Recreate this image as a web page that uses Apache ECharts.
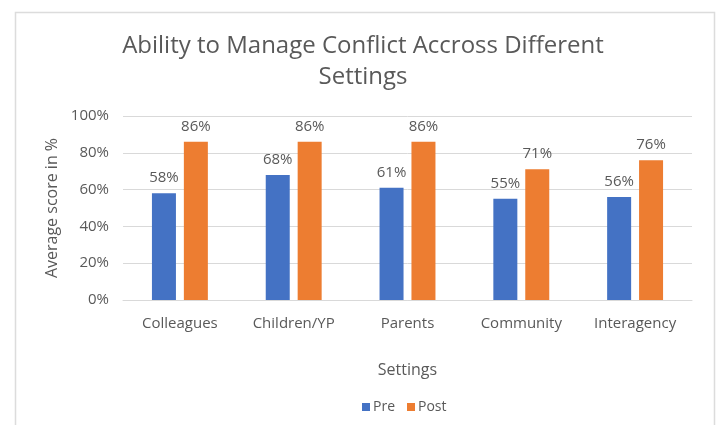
<!DOCTYPE html>
<html>
<head>
<meta charset="utf-8">
<script src="https://cdn.jsdelivr.net/npm/echarts@6/dist/echarts.min.js"></script>
<style>html,body{margin:0;padding:0;background:#fff;}#c{width:718px;height:425px;}</style>
</head>
<body>
<div id="c"></div>
<script>
const categories = ["Colleagues", "Children/YP", "Parents", "Community", "Interagency"];
const preValues = [58, 68, 61, 55, 56];
const postValues = [86, 86, 86, 71, 76];
const yTicks = [0, 20, 40, 60, 80, 100];

const FONT = "'Open Sans', 'Noto Sans', sans-serif";
const TXT = "#595959";
const chart = echarts.init(document.getElementById('c'));
chart.setOption({
  animation: false,
  backgroundColor: '#fff',
  graphic: [{
    type: 'rect', left: 13, top: 10,
    shape: { width: 699, height: 430 },
    style: { fill: 'none', stroke: '#dcdcdc', lineWidth: 1.5 }
  }],
  title: {
    text: 'Ability to Manage Conflict Accross Different\nSettings',
    left: 358, textAlign: 'center', top: 26,
    textStyle: { fontFamily: FONT, fontSize: 24, fontWeight: 'normal', color: TXT, lineHeight: 31 }
  },
  legend: {
    data: ['Pre', 'Post'],
    top: 395, left: 357,
    itemWidth: 8, itemHeight: 8, itemGap: 12,
    icon: 'rect',
    textStyle: { fontFamily: FONT, fontSize: 14, color: TXT, padding: [0, 0, 0, -2] }
  },
  grid: { left: 123, right: 26, top: 116, bottom: 125 },
  xAxis: {
    type: 'category', data: categories,
    name: 'Settings', nameLocation: 'middle', nameGap: 62,
    nameTextStyle: { fontFamily: FONT, fontSize: 16, color: TXT },
    axisLine: { lineStyle: { color: '#d9d9d9' } },
    axisTick: { show: false },
    axisLabel: { fontFamily: FONT, fontSize: 15, color: TXT, margin: 16 }
  },
  yAxis: {
    type: 'value', min: 0, max: 100, interval: 20,
    name: 'Average score in %', nameLocation: 'middle', nameGap: 62,
    nameTextStyle: { fontFamily: FONT, fontSize: 16, color: TXT },
    axisLine: { show: false }, axisTick: { show: false },
    axisLabel: { fontFamily: FONT, fontSize: 15, color: TXT, margin: 14,
      formatter: v => yTicks.includes(v) ? v + '%' : '' },
    splitLine: { lineStyle: { color: '#d9d9d9' } }
  },
  series: [
    { name: 'Pre', type: 'bar', data: preValues, barWidth: 24, barGap: '33%',
      itemStyle: { color: '#4472C4' },
      label: { show: true, position: 'top', distance: 8, formatter: '{c}%', fontFamily: FONT, fontSize: 15, color: TXT } },
    { name: 'Post', type: 'bar', data: postValues, barWidth: 24,
      itemStyle: { color: '#ED7D31' },
      label: { show: true, position: 'top', distance: 8, formatter: '{c}%', fontFamily: FONT, fontSize: 15, color: TXT } }
  ]
});
</script>
</body>
</html>
